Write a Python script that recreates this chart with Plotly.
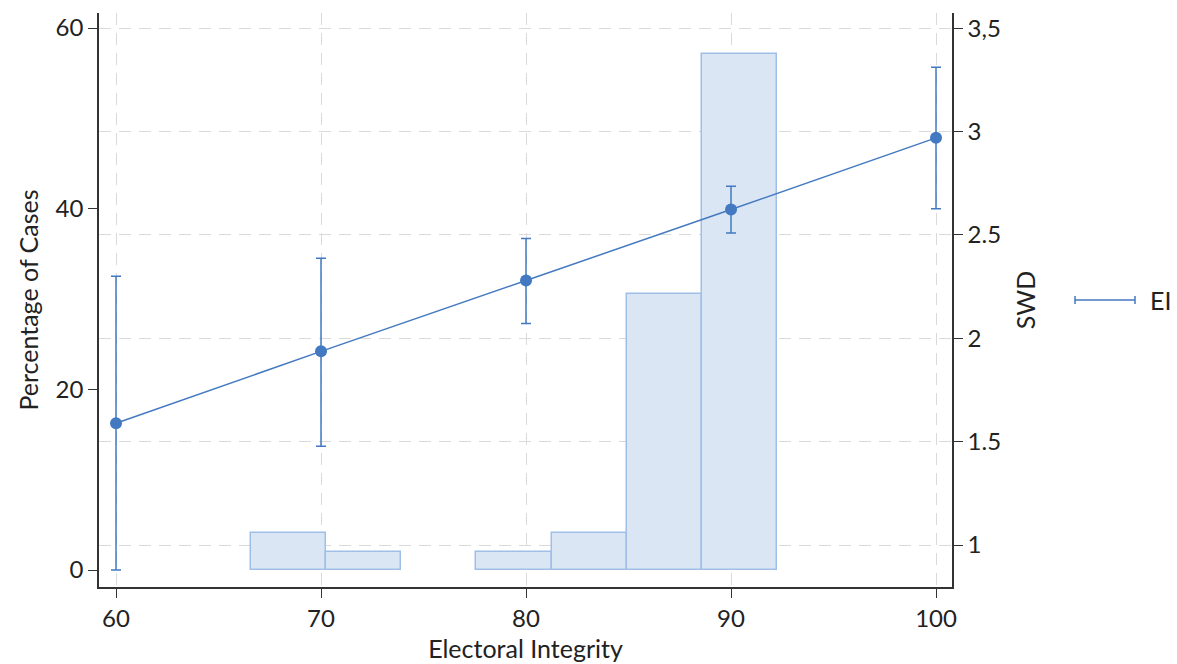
import plotly.graph_objects as go

# Histogram (percentage of cases) — bin left edges, width, heights
bin_left = [66.57, 70.24, 77.58, 81.25, 84.92, 88.59]
bin_width = 3.67
pct_cases = [4.08, 2.04, 2.04, 4.08, 30.61, 57.14]

# SWD by electoral integrity
ei_x = [60, 70, 80, 90, 100]
swd_mean = [1.589, 1.937, 2.28, 2.623, 2.97]
swd_hi = [2.30, 2.387, 2.483, 2.736, 3.311]
swd_lo = [0.879, 1.478, 2.072, 2.51, 2.627]

x_ticks = [60, 70, 80, 90, 100]
left_ticks = [0, 20, 40, 60]
right_tickvals = [1, 1.5, 2, 2.5, 3, 3.5]
right_ticktext = ["1", "1.5", "2", "2.5", "3", "3,5"]

blue = "#4379c1"
font_color = "#222222"
grid_color = "#dadada"

err_plus = [h - m for h, m in zip(swd_hi, swd_mean)]
err_minus = [m - l for m, l in zip(swd_mean, swd_lo)]

fig = go.Figure()
fig.add_trace(go.Bar(
    x=bin_left, y=pct_cases, width=[bin_width] * len(bin_left), offset=0,
    marker=dict(color="#dbe6f4", line=dict(color="#9fbfe7", width=1.5)),
    showlegend=False, yaxis="y", hoverinfo="skip",
))
fig.add_trace(go.Scatter(
    x=ei_x, y=swd_mean, yaxis="y2", mode="lines+markers",
    line=dict(color=blue, width=1.5),
    marker=dict(color=blue, size=12),
    error_y=dict(type="data", symmetric=False, array=err_plus, arrayminus=err_minus,
                 color=blue, thickness=1.5, width=5),
    name="EI", showlegend=False,
))

axis_line = "#333333"
TICK = 24
TITLE = 25
ML, MR, MT, MB = 99, 225, 13, 77
fig.update_layout(
    width=1177, height=664,
    margin=dict(l=ML, r=MR, t=MT, b=MB),
    plot_bgcolor="white", paper_bgcolor="white",
    font=dict(family="Lato", size=TICK, color=font_color),
    bargap=0,
    xaxis=dict(
        range=[59.17, 100.78], tickvals=x_ticks, showgrid=True, automargin=False,
        gridcolor=grid_color, griddash="12px,8px", gridwidth=1,
        showline=True, linecolor=axis_line, linewidth=1.5,
        ticks="outside", ticklen=9, tickcolor=axis_line, zeroline=False,
        title=dict(text="Electoral Integrity", font=dict(size=TITLE), standoff=10),
    ),
    yaxis=dict(
        range=[-1.88, 61.66], tickvals=left_ticks, showgrid=False, zeroline=False,
        automargin=False,
        showline=True, linecolor=axis_line, linewidth=1.5,
        ticks="outside", ticklen=9, tickcolor=axis_line,
        title=dict(text="Percentage of Cases", font=dict(size=TITLE), standoff=10),
    ),
    yaxis2=dict(
        range=[0.797, 3.574], overlaying="y", side="right", automargin=False,
        tickvals=right_tickvals, ticktext=right_ticktext,
        showgrid=True, gridcolor=grid_color, griddash="12px,8px", gridwidth=1,
        zeroline=False, showline=True, linecolor=axis_line, linewidth=1.5,
        ticks="outside", ticklen=9, tickcolor=axis_line,
        title=dict(text="SWD", font=dict(size=TITLE), standoff=17),
    ),
    showlegend=False,
)

# Manual legend: error-bar style symbol + label (paper coordinates)
W, H = 1177, 664
PW, PH = W - ML - MR, H - MT - MB
lx0, lx1, ly, cap = 1075, 1135, 300, 4
def fx(x):
    return (x - ML) / PW
def fy(y):
    return (H - MB - y) / PH
for (a, b, c, d) in [(lx0, ly, lx1, ly), (lx0, ly - cap, lx0, ly + cap), (lx1, ly - cap, lx1, ly + cap)]:
    fig.add_shape(type="line", xref="paper", yref="paper",
                  x0=fx(a), x1=fx(c), y0=fy(b), y1=fy(d),
                  line=dict(color=blue, width=1.5))
fig.add_annotation(xref="paper", yref="paper",
                   x=fx(1148), y=fy(ly), text="EI", showarrow=False,
                   xanchor="left", yanchor="middle",
                   font=dict(size=25, color=font_color))

fig.write_html("out.html")
